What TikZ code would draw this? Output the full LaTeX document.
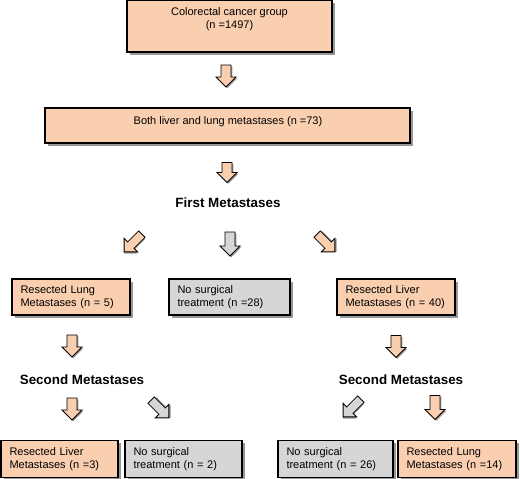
\documentclass[tikz,border=0pt]{standalone}
\usepackage{fontspec}
\setmainfont{Liberation Sans}
\usetikzlibrary{shadows}
\definecolor{peach}{RGB}{250,207,175}
\definecolor{greyfill}{RGB}{214,214,214}
\definecolor{shadowgrey}{RGB}{125,125,125}
\tikzset{
  boxbase/.style={draw=black, line width=1.1pt, inner xsep=8.5pt, inner ysep=2pt,
    font=\fontsize{11}{13.5}\selectfont,
    drop shadow={shadow xshift=2.5pt, shadow yshift=-2.5pt, fill=shadowgrey, opacity=0.8}},
  pbox/.style={boxbase, fill=peach},
  gbox/.style={boxbase, fill=greyfill},
  smallbox/.style={align=left, text width=#1-17pt, minimum height=36pt},
  txt/.style={font=\fontsize{11}{13}\selectfont, inner sep=0pt},
  heading/.style={font=\fontsize{13.4}{16}\selectfont\bfseries, inner sep=0pt},
  arrlen/.store in=\arrlen, arrlen=22,
  arrhw/.store in=\arrhw, arrhw=10,
  arrsw/.store in=\arrsw, arrsw=5,
  blockarrow/.pic={
    \pgfmathsetmacro\hh{\arrlen/2}
    \pgfmathsetmacro\hb{\arrlen/2-\arrhw}
    \fill[shadowgrey, opacity=0.8, shift={(1.3,1.3)}] (-\arrsw,-\hh) -- (\arrsw,-\hh) -- (\arrsw,\hb) -- (\arrhw,\hb) -- (0,\hh) -- (-\arrhw,\hb) -- (-\arrsw,\hb) -- cycle;
    \draw[line width=0.85pt, line join=miter, pic actions] (-\arrsw,-\hh) -- (\arrsw,-\hh) -- (\arrsw,\hb) -- (\arrhw,\hb) -- (0,\hh) -- (-\arrhw,\hb) -- (-\arrsw,\hb) -- cycle;
  },
  diagarrow/.style={arrlen=25, arrhw=9.5, arrsw=4.5},
}
\begin{document}
\begin{tikzpicture}[x=1pt, y=-1pt]
\useasboundingbox (0,0) rectangle (520,479);

% top boxes
\node[pbox, minimum width=205pt, minimum height=52pt] (b1) at (229.5,26) {};
\node[txt, align=center, anchor=north] (t1) at ([yshift=-8pt]b1.north) {Colorectal cancer group\\(n =1497)};

\pic[fill=peach] (a1) at (226,76) {blockarrow};

\node[pbox, minimum width=365pt, minimum height=35pt] (b2) at (227.5,125.5) {};
\node[txt] (t2) at (228,121.5) {Both liver and lung metastases (n =73)};

\pic[fill=peach, arrlen=20] (a2) at (227,172.5) {blockarrow};

\node[heading] (h1) at (228,203) {First Metastases};

\pic[fill=peach, diagarrow, rotate=-45] (a3) at (133,243) {blockarrow};
\pic[fill=greyfill, arrlen=24] (a4) at (230,244) {blockarrow};
\pic[fill=peach, diagarrow, rotate=45] (a5) at (326,243) {blockarrow};

% first level boxes
\node[pbox, smallbox=118pt] (bl1) at (71,297) {Resected Lung\\Metastases (n = 5)};
\node[gbox, smallbox=121pt] (bm) at (229.5,297) {No surgical\\treatment (n =28)};
\node[pbox, smallbox=118pt] (br1) at (396,297) {Resected Liver\\Metastases (n = 40)};

\pic[fill=peach] (a6) at (72,346) {blockarrow};
\pic[fill=peach] (a7) at (396,346.5) {blockarrow};

\node[heading] (h2) at (82,380) {Second Metastases};
\node[heading] (h3) at (401,380) {Second Metastases};

\pic[fill=peach] (a8) at (72,409) {blockarrow};
\pic[fill=greyfill, diagarrow, rotate=45] (a9) at (160,409) {blockarrow};
\pic[fill=greyfill, diagarrow, rotate=-45] (a10) at (352,408) {blockarrow};
\pic[fill=peach, arrlen=24] (a11) at (435,407.5) {blockarrow};

% bottom boxes
\node[pbox, smallbox=117pt, minimum height=37pt] (ll) at (59.5,459) {Resected Liver\\Metastases (n =3)};
\node[gbox, smallbox=117pt, minimum height=37pt] (lg) at (183.5,459) {No surgical\\treatment (n = 2)};
\node[gbox, smallbox=115pt, minimum height=37pt] (rg) at (335.5,459) {No surgical\\treatment (n = 26)};
\node[pbox, smallbox=118pt, minimum height=37pt] (rr) at (457,459) {Resected Lung\\Metastases (n =14)};
\end{tikzpicture}
\end{document}
